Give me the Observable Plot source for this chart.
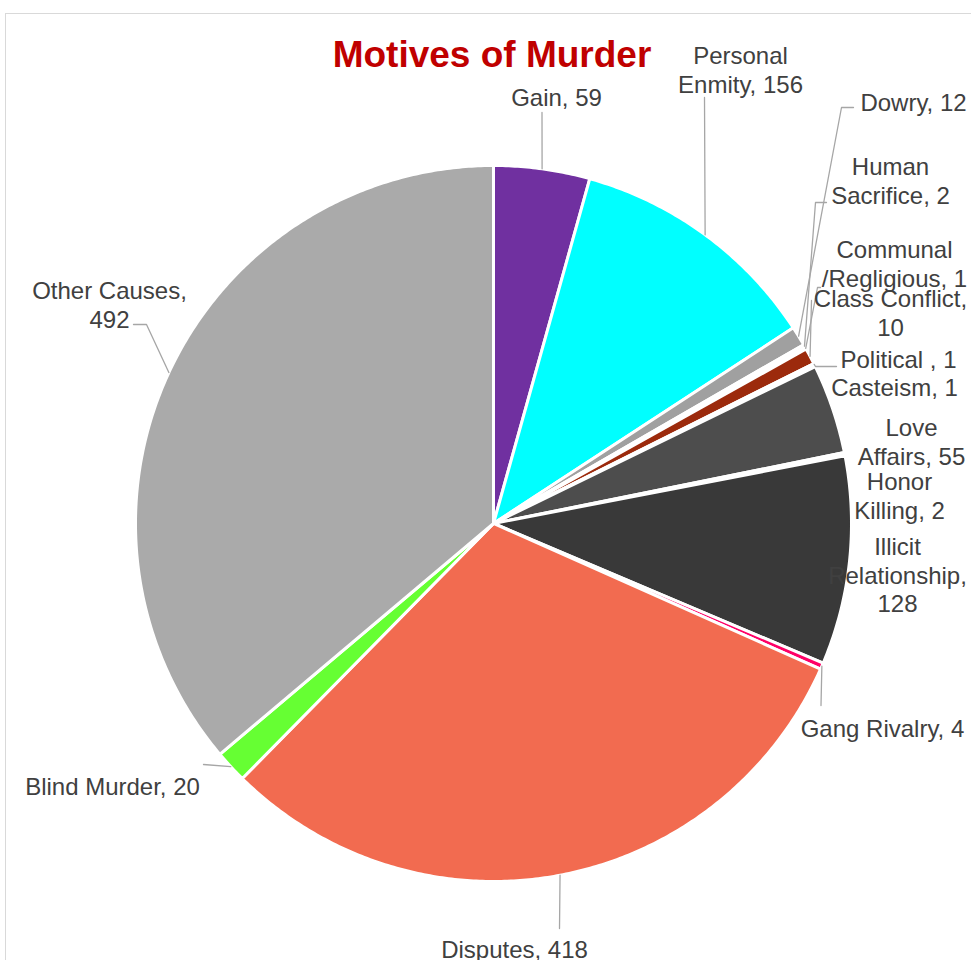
<!DOCTYPE html>
<html>
<head>
<meta charset="utf-8">
<script src="https://cdn.jsdelivr.net/npm/d3@7"></script>
<script src="https://cdn.jsdelivr.net/npm/@observablehq/plot@0.6"></script>
<style>
  html, body { margin: 0; padding: 0; background: #fff; }
  #wrap { position: relative; width: 971px; height: 960px; overflow: hidden; background: #fff; }
  #border { position: absolute; left: 5px; top: 13px; width: 1200px; height: 1200px; border: 1.5px solid #d9d9d9; box-sizing: border-box; }
  #chart { position: absolute; left: 0; top: 0; }
  #title { position: absolute; left: 0; width: 984px; top: 36px; margin: 0; text-align: center;
           font: bold 37px "Liberation Sans", Arial, sans-serif; line-height: 37px; color: #c00000; }
</style>
</head>
<body>
<div id="wrap">
  <div id="border"></div>
  <div id="chart"></div>
  <h1 id="title">Motives of Murder</h1>
</div>
<script>
// ---- data ----
const categories = ["Gain", "Personal Enmity", "Dowry", "Human Sacrifice", "Communal /Regligious",
  "Class Conflict", "Political ", "Casteism", "Love Affairs", "Honor Killing",
  "Illicit Relationship", "Gang Rivalry", "Disputes", "Blind Murder", "Other Causes"];
const values = [59, 156, 12, 2, 1, 10, 1, 1, 55, 2, 128, 4, 418, 20, 492];

// ---- styles ----
const sliceColors = ["#7030a0", "#00ffff", "#a0a0a0", "#f4f4f4", "#f4f4f4",
  "#9c2a0c", "#f4f4f4", "#f4f4f4", "#4d4d4d", "#f4f4f4",
  "#393939", "#ff0066", "#f26b50", "#66ff33", "#aaaaaa"];
// word index before which a label line break is placed
const labelBreaks = [[], [1], [], [1], [1], [2], [], [], [1], [1], [1, 2], [], [], [], [2]];

// ---- layout (pixels) ----
const W = 971, H = 960;
const pie = {cx: 493, cy: 523, r: 358};
const labelPos = [[556, 96], [740, 69], [913, 101], [890, 180], [894, 263], [890, 312], [898, 358],
  [894, 386], [911, 441], [899, 495], [897, 574], [882, 727], [514, 948], [112, 785], [109, 304]];
const leaderStarts = [[[541.5, 112]], [[704, 97]], [[853, 107], [841, 107]], [[826, 202], [815, 202]],
  [[820, 287], [817, 287]], [[811, 300]], [[836, 366], [815, 366]], null, null, null, null,
  [[820.5, 705]], [[559, 928]], [[203, 764]], [[133, 324], [146, 324]]];

const total = d3.sum(values);
let acc = 0;
const slices = categories.map((name, i) => {
  const a0 = acc / total * 2 * Math.PI;
  acc += values[i];
  const a1 = acc / total * 2 * Math.PI;
  return {name, value: values[i], a0, a1, mid: (a0 + a1) / 2};
});
const px = a => pie.cx + pie.r * Math.sin(a);
const py = a => pie.cy - pie.r * Math.cos(a);

const polyPoints = [];
for (const s of slices) {
  polyPoints.push({name: s.name, x: pie.cx, y: pie.cy});
  const n = Math.max(2, Math.ceil((s.a1 - s.a0) / (Math.PI / 360)));
  for (let k = 0; k <= n; k++) {
    const a = s.a0 + (s.a1 - s.a0) * k / n;
    polyPoints.push({name: s.name, x: px(a), y: py(a)});
  }
}

const labels = slices.map((s, i) => {
  const words = `${s.name}, ${s.value}`.split(" ");
  let t = "";
  words.forEach((w, j) => {
    if (j > 0) t += labelBreaks[i].includes(j) ? "\n" : " ";
    t += w;
  });
  return {name: s.name, text: t, x: labelPos[i][0], y: labelPos[i][1]};
});

const leaders = [];
slices.forEach((s, i) => {
  if (!leaderStarts[i]) return;
  for (const [x, y] of leaderStarts[i]) leaders.push({name: s.name, x, y});
  leaders.push({name: s.name, x: px(s.mid), y: py(s.mid)});
});

const chart = Plot.plot({
  width: W, height: H, margin: 0,
  style: {background: "transparent", overflow: "visible"},
  x: {domain: [0, W], range: [0, W], axis: null},
  y: {domain: [0, H], range: [0, H], axis: null},
  color: {domain: categories, range: sliceColors},
  marks: [
    Plot.line(polyPoints, {x: "x", y: "y", z: "name", fill: "name", stroke: "white",
      strokeWidth: 3, strokeLinejoin: "round", curve: "linear-closed"}),
    Plot.line(leaders, {x: "x", y: "y", z: "name", stroke: "#a6a6a6", strokeWidth: 1.3}),
    Plot.text(labels, {x: "x", y: "y", text: "text", textAnchor: "middle", lineAnchor: "middle",
      fontSize: 24, lineHeight: 1.17, fill: "#404040",
      fontFamily: "'Liberation Sans', Arial, sans-serif"})
  ]
});
document.getElementById("chart").appendChild(chart);
</script>
</body>
</html>
